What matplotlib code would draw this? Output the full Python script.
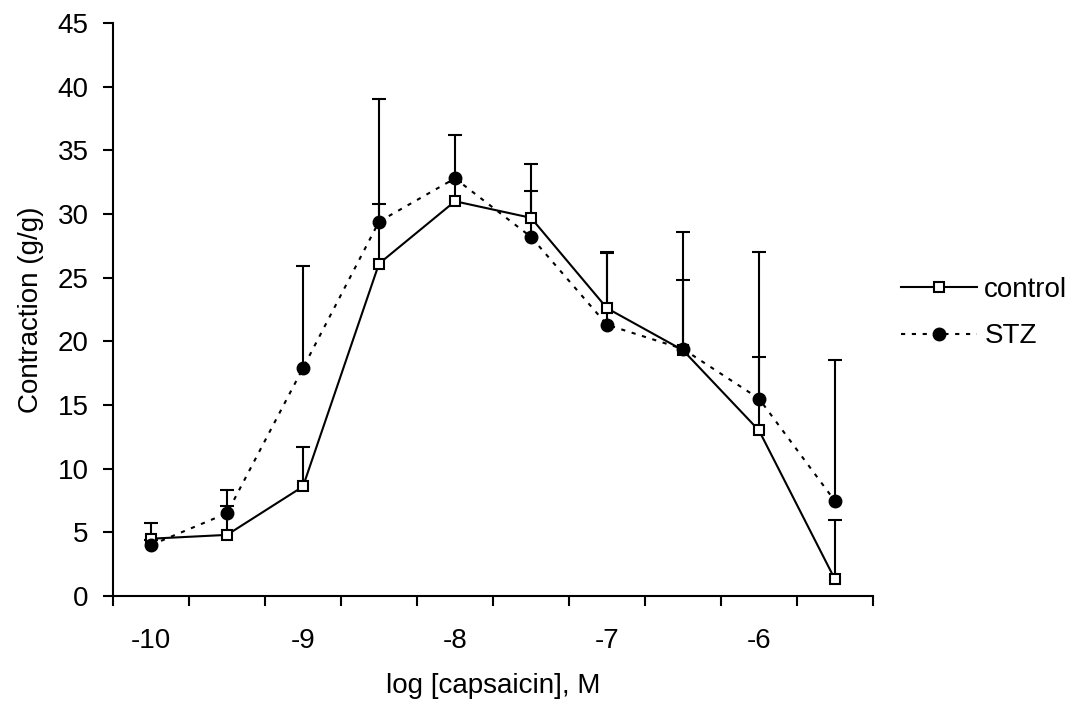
import matplotlib
matplotlib.use("Agg")
import matplotlib.pyplot as plt
from matplotlib.ticker import FixedLocator, NullFormatter, FixedFormatter

plt.rcParams['font.family'] = ['Liberation Sans', 'DejaVu Sans']

log_conc = [-10.0, -9.5, -9.0, -8.5, -8.0, -7.5, -7.0, -6.5, -6.0, -5.5]
control = [4.5, 4.8, 8.6, 26.1, 31.0, 29.7, 22.6, 19.3, 13.0, 1.3]
control_err = [1.2, 2.3, 3.1, 4.7, 1.5, 4.2, 4.3, 5.5, 5.8, 4.7]
stz = [4.0, 6.5, 17.9, 29.4, 32.8, 28.2, 21.3, 19.4, 15.5, 7.45]
stz_err = [0.4, 1.8, 8.0, 9.6, 3.4, 3.6, 5.7, 9.2, 11.5, 11.05]

x_labels = ['-10', '-9', '-8', '-7', '-6']
x_label_pos = [-10, -9, -8, -7, -6]
y_ticks = [0, 5, 10, 15, 20, 25, 30, 35, 40, 45]

FS = 20
fig = plt.figure(figsize=(10.81, 7.08), dpi=100)
ax = fig.add_axes([113/1081, 1 - 596/708, (873-113)/1081, (596-23)/708])

lw = 1.5
for ys, es in ((control, control_err), (stz, stz_err)):
    tops = [y + e for y, e in zip(ys, es)]
    ax.vlines(log_conc, ys, tops, colors='black', lw=lw, zorder=2)
    ax.plot(log_conc, tops, ls='none', marker='_', markersize=10.5,
            markeredgewidth=lw, color='black', zorder=2)

ax.plot(log_conc, control, color='black', lw=lw, marker='s', markersize=7.5,
        markerfacecolor='white', markeredgecolor='black', markeredgewidth=1.5,
        label='control', zorder=3)
ax.plot(log_conc, stz, color='black', lw=lw, linestyle=(0, (2, 3.2)), marker='o',
        markersize=9, markerfacecolor='black', markeredgecolor='black',
        label='STZ', zorder=4)

ax.set_xlim(-10.25, -5.25)
ax.set_ylim(0, 45)
ax.spines['top'].set_visible(False)
ax.spines['right'].set_visible(False)
for s in ('left', 'bottom'):
    ax.spines[s].set_linewidth(1.5)

edges = [-10.25 + 0.5 * i for i in range(11)]
ax.xaxis.set_major_locator(FixedLocator(edges))
ax.xaxis.set_major_formatter(NullFormatter())
ax.xaxis.set_minor_locator(FixedLocator(x_label_pos))
ax.xaxis.set_minor_formatter(FixedFormatter(x_labels))
ax.tick_params(axis='x', which='major', direction='out', length=7.5, width=1.5)
ax.tick_params(axis='x', which='minor', length=0, pad=23, labelsize=FS)
ax.set_yticks(y_ticks)
ax.tick_params(axis='y', direction='out', length=7.5, width=1.5, labelsize=FS, pad=10)

ax.set_xlabel('log [capsaicin], M', fontsize=FS, labelpad=14)
ax.set_ylabel('Contraction (g/g)', fontsize=FS, labelpad=10)

fig.legend(loc='center left', bbox_to_anchor=(901/1081, 1 - 313/708), frameon=False,
           fontsize=FS, handlelength=2.75, handletextpad=0.25, labelspacing=0.75,
           borderaxespad=0, borderpad=0)

fig.savefig('out.png', dpi=100)
